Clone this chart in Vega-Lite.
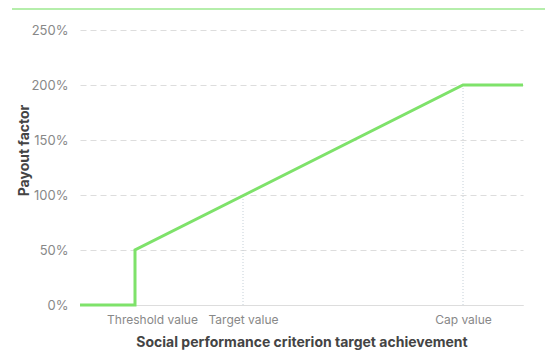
{
  "$schema": "https://vega.github.io/schema/vega-lite/v6.json",
  "width": 443,
  "height": 275,
  "autosize": {"type": "none"},
  "padding": {"left": 80, "top": 30, "right": 22, "bottom": 51},
  "config": {
    "view": {"stroke": null},
    "font": "Inter",
    "axis": {"labelFont": "Inter", "titleFont": "Inter"}
  },
  "layer": [
    {
      "data": {"values": [{"a": -68, "b": 465, "y": 269}]},
      "mark": {"type": "rule", "color": "#9de88f", "strokeWidth": 1.5, "clip": false},
      "encoding": {
        "x": {"field": "a", "type": "quantitative"},
        "x2": {"field": "b"},
        "y": {"field": "y", "type": "quantitative"}
      }
    },
    {
      "data": {"values": [{"x": 163, "y0": 0, "y": 100}, {"x": 383, "y0": 0, "y": 200}]},
      "mark": {"type": "rule", "color": "#c5d0d8", "strokeWidth": 1, "strokeDash": [1, 2]},
      "encoding": {
        "x": {"field": "x", "type": "quantitative"},
        "y": {"field": "y0", "type": "quantitative"},
        "y2": {"field": "y"}
      }
    },
    {
      "data": {
        "values": [
          {"o": 1, "achievement": 0, "payout": 0},
          {"o": 2, "achievement": 55, "payout": 0},
          {"o": 3, "achievement": 55, "payout": 50},
          {"o": 4, "achievement": 383, "payout": 200},
          {"o": 5, "achievement": 443, "payout": 200}
        ]
      },
      "mark": {"type": "line", "color": "#7ee26a", "strokeWidth": 3, "strokeJoin": "miter"},
      "encoding": {
        "order": {"field": "o", "type": "quantitative"},
        "x": {
          "field": "achievement",
          "type": "quantitative",
          "scale": {"domain": [0, 443], "nice": false, "zero": false},
          "axis": {
            "values": [55, 163, 383],
            "labelExpr": "datum.value == 55 ? 'Threshold value' : datum.value == 163 ? 'Target value' : 'Cap value'",
            "labelOffset": {"condition": {"test": "datum.value == 55", "value": 17}, "value": 0},
            "grid": false,
            "ticks": false,
            "domainColor": "#dddddd",
            "labelColor": "#888888",
            "labelFontSize": 12,
            "labelPadding": 9,
            "title": "Social performance criterion  target achievement",
            "titleFontSize": 14,
            "titleFontWeight": "bold",
            "titleColor": "#444444",
            "titlePadding": 10
          }
        },
        "y": {
          "field": "payout",
          "type": "quantitative",
          "scale": {"domain": [0, 250], "nice": false},
          "axis": {
            "values": [0, 50, 100, 150, 200, 250],
            "labelExpr": "datum.value + '%'",
            "domain": false,
            "ticks": false,
            "gridDash": [6, 4],
            "gridColor": "#dddddd",
            "labelColor": "#888888",
            "labelFontSize": 13,
            "labelPadding": 12,
            "title": "Payout factor",
            "titleFontSize": 14,
            "titleFontWeight": "bold",
            "titleColor": "#444444",
            "titlePadding": -1,
            "titleY": 120
          }
        }
      }
    }
  ]
}
